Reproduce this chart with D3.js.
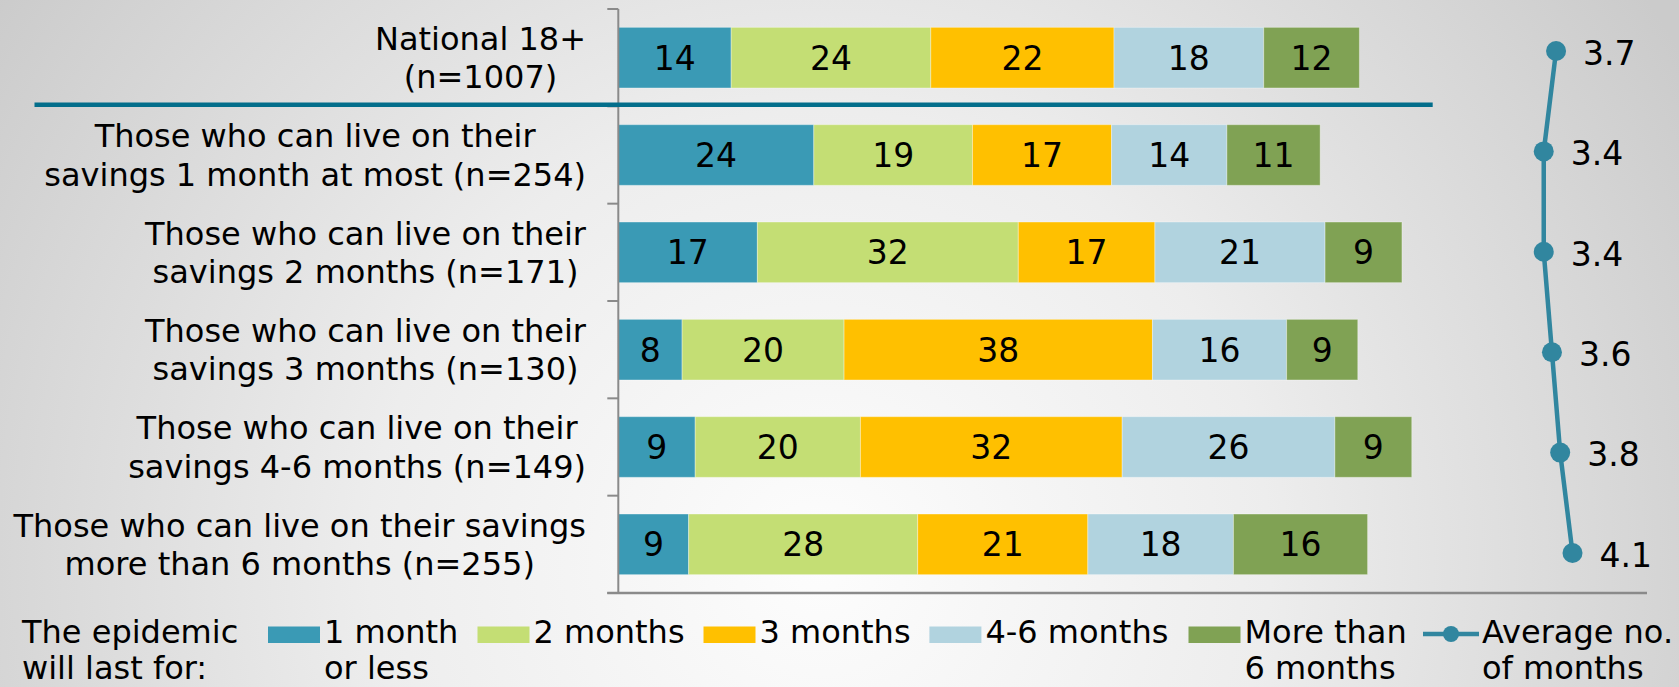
<!DOCTYPE html>
<html>
<head>
<meta charset="utf-8">
<script src="https://cdn.jsdelivr.net/npm/d3@7"></script>
<style>
  html, body { margin: 0; padding: 0; background: #e6e6e6; }
  svg { display: block; }
  text { font-family: "DejaVu Sans", Verdana, sans-serif; fill: #000; }
</style>
</head>
<body>
<svg id="chart" width="1679" height="687"></svg>
<script>
// ---------- data ----------
const categories = [
  ["National 18+", "(n=1007)"],
  ["Those who can live on their", "savings 1 month at most (n=254)"],
  ["Those who can live on their", "savings 2 months (n=171)"],
  ["Those who can live on their", "savings 3 months (n=130)"],
  ["Those who can live on their", "savings 4-6 months (n=149)"],
  ["Those who can live on their savings", "more than 6 months (n=255)"]
];
const seriesNames = ["1 month or less", "2 months", "3 months", "4-6 months", "More than 6 months"];
const legendLabels = [["1 month", "or less"], ["2 months"], ["3 months"], ["4-6 months"], ["More than", "6 months"]];
// shares (%), labels show the rounded value
const oneMonth    = [13.8, 23.9, 17.0, 7.8, 9.4, 8.6];
const twoMonths   = [24.4, 19.4, 31.9, 19.8, 20.2, 28.0];
const threeMonths = [22.4, 17.0, 16.7, 37.7, 32.0, 20.8];
const fourSix     = [18.3, 14.1, 20.8, 16.4, 26.0, 17.8];
const moreThanSix = [11.7, 11.4, 9.4, 8.7, 9.4, 16.4];
const averageMonths = [3.7, 3.4, 3.4, 3.6, 3.8, 4.1];
const lineLegend = ["Average no.", "of months"];
const legendTitle = ["The epidemic", "will last for:"];

const colors = ["#3A9AB5", "#C4DE74", "#FFC000", "#B1D3DF", "#80A254"];
const lineColor = "#31869F";
const sepColor = "#036E8B";

// ---------- setup ----------
const svg = d3.select("#chart");
const W = 1679, H = 687;

// background gradient
const defs = svg.append("defs");
const rg = defs.append("radialGradient").attr("id", "bg")
  .attr("gradientUnits", "userSpaceOnUse")
  .attr("cx", 820).attr("cy", 560).attr("r", 1000);
rg.append("stop").attr("offset", "0").attr("stop-color", "#FDFDFD");
rg.append("stop").attr("offset", "0.45").attr("stop-color", "#EDEDED");
rg.append("stop").attr("offset", "1").attr("stop-color", "#CBCBCB");
svg.append("rect").attr("width", W).attr("height", H).attr("fill", "url(#bg)");

const rows = categories.map((c, i) => ({
  idx: i,
  s0: oneMonth[i], s1: twoMonths[i], s2: threeMonths[i], s3: fourSix[i], s4: moreThanSix[i],
  avg: averageMonths[i]
}));
const keys = ["s0", "s1", "s2", "s3", "s4"];

const x = d3.scaleLinear().domain([0, 125]).range([618.3, 1640.8]);
const y = d3.scaleBand().domain(rows.map(d => d.idx)).range([9, 593])
  .paddingInner(0.377).paddingOuter(0.1885);
const step = y.step();

const stacked = d3.stack().keys(keys)(rows);

// bars
const gBars = svg.append("g");
stacked.forEach((layer, k) => {
  const g = gBars.append("g");
  g.selectAll("rect").data(layer).join("rect")
    .attr("x", d => x(d[0]))
    .attr("y", d => y(d.data.idx))
    .attr("width", d => x(d[1]) - x(d[0]))
    .attr("height", y.bandwidth())
    .attr("fill", colors[k])
    .attr("stroke", "rgba(255,255,255,0.35)")
    .attr("stroke-width", 1);
  g.selectAll("text").data(layer).join("text")
    .attr("x", d => (x(d[0]) + x(d[1])) / 2)
    .attr("y", d => y(d.data.idx) + y.bandwidth() / 2)
    .attr("dy", "0.36em")
    .attr("text-anchor", "middle")
    .attr("font-size", 33)
    .text(d => Math.round(d.data[keys[k]]));
});

// axes
const axisColor = "#8A8A8A";
const gAxis = svg.append("g");
const yTop = y.range()[0], yBot = y.range()[1];
gAxis.append("line").attr("x1", x(0)).attr("x2", x(0)).attr("y1", yTop).attr("y2", yBot)
  .attr("stroke", axisColor).attr("stroke-width", 2);
gAxis.selectAll("line.tick").data(d3.range(rows.length + 1)).join("line")
  .attr("class", "tick")
  .attr("x1", x(0) - 11).attr("x2", x(0))
  .attr("y1", i => yTop + i * step).attr("y2", i => yTop + i * step)
  .attr("stroke", axisColor).attr("stroke-width", 2);
gAxis.append("line").attr("x1", x(0) - 11).attr("x2", 1647).attr("y1", yBot).attr("y2", yBot)
  .attr("stroke", axisColor).attr("stroke-width", 2.5);

// separator line under national row
svg.append("line")
  .attr("x1", 34.5).attr("x2", 1432.7)
  .attr("y1", yTop + step - 1.5).attr("y2", yTop + step - 1.5)
  .attr("stroke", sepColor).attr("stroke-width", 4.5);

// category labels (centered block, right edge near axis)
const gCat = svg.append("g");
const lineH = 38.6;
const blockRight = 586;
rows.forEach((d, i) => {
  const cy = y(d.idx) + y.bandwidth() / 2;
  const lines = categories[i];
  const texts = lines.map((t, j) => gCat.append("text")
    .attr("font-size", 32)
    .attr("text-anchor", "middle")
    .attr("y", cy + (j - (lines.length - 1) / 2) * lineH)
    .attr("dy", "0.36em")
    .text(t));
  const maxW = d3.max(texts, t => t.node().getComputedTextLength());
  texts.forEach(t => t.attr("x", blockRight - maxW / 2));
});

// average line
const lx = d3.scaleLinear().domain([0, 5]).range([1404, 1609.5]);
const ly = d3.scalePoint().domain(rows.map(d => d.idx)).range([51, 553]);
const gLine = svg.append("g");
gLine.append("path").datum(rows)
  .attr("d", d3.line().x(d => lx(d.avg)).y(d => ly(d.idx)))
  .attr("fill", "none").attr("stroke", lineColor).attr("stroke-width", 4.5);
gLine.selectAll("circle").data(rows).join("circle")
  .attr("cx", d => lx(d.avg)).attr("cy", d => ly(d.idx)).attr("r", 10)
  .attr("fill", lineColor);
gLine.selectAll("text").data(rows).join("text")
  .attr("x", d => lx(d.avg) + 27)
  .attr("y", d => ly(d.idx) + 2)
  .attr("dy", "0.36em")
  .attr("font-size", 33)
  .text(d => d3.format(".1f")(d.avg));

// legend
const gLeg = svg.append("g");
const legBase = 643, legLineH = 36;
legendTitle.forEach((t, j) => gLeg.append("text")
  .attr("x", 22).attr("y", legBase + j * legLineH).attr("font-size", 32).text(t));
const legendX = [268, 477.5, 703.5, 929.4, 1188.5];
seriesNames.forEach((s, k) => {
  gLeg.append("rect").attr("x", legendX[k]).attr("y", legBase - 16.5)
    .attr("width", 52).attr("height", 16.5).attr("fill", colors[k]);
  legendLabels[k].forEach((t, j) => gLeg.append("text")
    .attr("x", legendX[k] + 56).attr("y", legBase + j * legLineH)
    .attr("font-size", 32).text(t));
});
const llx = 1423;
gLeg.append("line").attr("x1", llx).attr("x2", llx + 56)
  .attr("y1", legBase - 9).attr("y2", legBase - 9)
  .attr("stroke", lineColor).attr("stroke-width", 4.5);
gLeg.append("circle").attr("cx", llx + 28).attr("cy", legBase - 9).attr("r", 8).attr("fill", lineColor);
lineLegend.forEach((t, j) => gLeg.append("text")
  .attr("x", llx + 59).attr("y", legBase + j * legLineH)
  .attr("font-size", 32).text(t));
</script>
</body>
</html>
